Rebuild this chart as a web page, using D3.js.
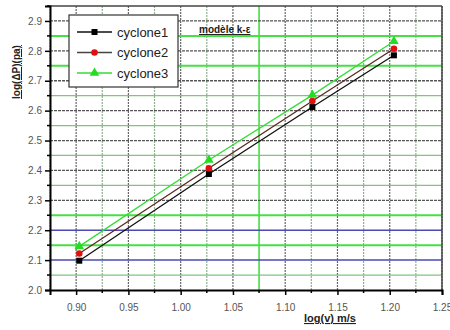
<!DOCTYPE html>
<html>
<head>
<meta charset="utf-8">
<script src="https://cdn.jsdelivr.net/npm/d3@7"></script>
<style>
  body { margin: 0; background: #fff; }
  svg { display: block; }
</style>
</head>
<body>
<div id="chart"></div>
<script>
// data
var logV = [0.903, 1.027, 1.126, 1.204];
var cyclone1 = [2.098, 2.388, 2.612, 2.785];
var cyclone2 = [2.122, 2.407, 2.632, 2.807];
var cyclone3 = [2.146, 2.435, 2.652, 2.832];
var seriesNames = ["cyclone1", "cyclone2", "cyclone3"];
var xTicks = [0.90, 0.95, 1.00, 1.05, 1.10, 1.15, 1.20, 1.25];
var yTicks = [2.0, 2.1, 2.2, 2.3, 2.4, 2.5, 2.6, 2.7, 2.8, 2.9];

var svgWidth = 450;
var svgHeight = 330;
var margin = { top: 6, right: 8, bottom: 40, left: 50 };
var chartWidth = svgWidth - margin.left - margin.right;
var chartHeight = svgHeight - margin.top - margin.bottom;

var svg = d3.select("#chart")
  .append("svg")
  .attr("width", svgWidth)
  .attr("height", svgHeight);

var chartGroup = svg.append("g")
  .attr("transform", `translate(${margin.left}, ${margin.top})`);

var xScale = d3.scaleLinear().domain([0.875, 1.25]).range([0, chartWidth]);
var yScale = d3.scaleLinear().domain([2.0, 2.95]).range([chartHeight, 0]);

// vertical grid every 0.025
var xGrid = d3.range(0, 16).map(i => 0.875 + i * 0.025);
xGrid.forEach(function(v) {
  var k = Math.round(v * 1000);
  var col = "#666", dash = "2,1", w = 1.2;
  if (k % 50 !== 0) { col = "#8fb08f"; }
  if (k === 1075) { col = "#33dd33"; dash = null; w = 1.5; }
  chartGroup.append("line")
    .attr("x1", xScale(v)).attr("x2", xScale(v))
    .attr("y1", 0).attr("y2", chartHeight)
    .attr("stroke", col).attr("stroke-width", w)
    .attr("stroke-dasharray", dash);
});

// horizontal grid every 0.05
var yGrid = d3.range(1, 19).map(i => 2.0 + i * 0.05);
var brightGreen = [2.15, 2.25, 2.75, 2.85];
var blue = [2.1, 2.2];
var lightGreen = [2.05, 2.35, 2.45, 2.55, 2.65];
yGrid.forEach(function(v) {
  var r = Math.round(v * 100) / 100;
  var col = "#555", dash = "3,1", w = 1.3;
  if (brightGreen.includes(r)) { col = "#44e044"; dash = null; w = 2; }
  else if (blue.includes(r)) { col = "#4a4ab0"; dash = null; w = 1.5; }
  else if (lightGreen.includes(r)) { col = "#7fc47f"; dash = null; w = 1.2; }
  chartGroup.append("line")
    .attr("x1", 0).attr("x2", chartWidth)
    .attr("y1", yScale(v)).attr("y2", yScale(v))
    .attr("stroke", col).attr("stroke-width", w)
    .attr("stroke-dasharray", dash);
});

// frame top/right
chartGroup.append("line")
  .attr("x1", 0).attr("x2", chartWidth).attr("y1", 0).attr("y2", 0)
  .attr("stroke", "#444").attr("stroke-width", 1.5);
chartGroup.append("line")
  .attr("x1", chartWidth).attr("x2", chartWidth).attr("y1", 0).attr("y2", chartHeight)
  .attr("stroke", "#444").attr("stroke-width", 1.5);

// axes
var xAxis = d3.axisBottom(xScale).tickValues(xTicks).tickFormat(d3.format(".2f")).tickSize(5);
var yAxis = d3.axisLeft(yScale).tickValues(yTicks).tickFormat(d3.format(".1f")).tickSize(5);

var gx = chartGroup.append("g")
  .attr("transform", `translate(0, ${chartHeight})`)
  .call(xAxis);
var gy = chartGroup.append("g").call(yAxis);

// minor ticks
var xMinor = d3.range(0, 8).map(i => 0.925 + i * 0.05);
gx.selectAll(".minor").data(xMinor).enter().append("line")
  .attr("x1", d => xScale(d)).attr("x2", d => xScale(d))
  .attr("y1", 0).attr("y2", 3).attr("stroke", "#000").attr("stroke-width", 1.5);
var yMinor = d3.range(0, 10).map(i => 2.05 + i * 0.1);
gy.selectAll(".minor").data(yMinor).enter().append("line")
  .attr("x1", 0).attr("x2", -3)
  .attr("y1", d => yScale(d)).attr("y2", d => yScale(d))
  .attr("stroke", "#000").attr("stroke-width", 1.5);

[gx, gy].forEach(function(g) {
  g.select(".domain").attr("stroke", "#000").attr("stroke-width", 2);
  g.selectAll(".tick line").attr("stroke", "#000").attr("stroke-width", 1.5);
  g.selectAll(".tick text")
    .attr("fill", "#555")
    .attr("font-family", "Liberation Sans Narrow, Arial, sans-serif")
    .attr("font-size", "10px");
});
gx.selectAll(".tick text").attr("dy", "1.3em");

// series
var series = [
  { name: seriesNames[0], values: cyclone1, line: "#111", marker: "#000", shape: d3.symbolSquare, size: 36 },
  { name: seriesNames[1], values: cyclone2, line: "#5a2a20", marker: "#e01010", shape: d3.symbolCircle, size: 34 },
  { name: seriesNames[2], values: cyclone3, line: "#33dd33", marker: "#22dd22", shape: d3.symbolTriangle, size: 40 }
];

var lineGen = d3.line()
  .x((d, i) => xScale(logV[i]))
  .y(d => yScale(d));

series.forEach(function(s) {
  chartGroup.append("path")
    .datum(s.values)
    .attr("d", lineGen)
    .attr("fill", "none")
    .attr("stroke", s.line)
    .attr("stroke-width", 1.3);
});
series.forEach(function(s) {
  chartGroup.selectAll(null)
    .data(s.values)
    .enter()
    .append("path")
    .attr("d", d3.symbol().type(s.shape).size(s.size))
    .attr("transform", (d, i) => `translate(${xScale(logV[i])}, ${yScale(d)})`)
    .attr("fill", s.marker);
});

// legend
var legend = svg.append("g").attr("transform", "translate(69, 15)");
legend.append("rect")
  .attr("width", 109).attr("height", 72)
  .attr("fill", "#fff").attr("stroke", "#333").attr("stroke-width", 1.2);
series.forEach(function(s, i) {
  var y = 17 + i * 20.5;
  legend.append("line")
    .attr("x1", 8).attr("x2", 43).attr("y1", y).attr("y2", y)
    .attr("stroke", s.line === "#5a2a20" ? "#444" : s.line).attr("stroke-width", 1.5);
  legend.append("path")
    .attr("d", d3.symbol().type(s.shape).size(s.size))
    .attr("transform", `translate(25.5, ${y})`)
    .attr("fill", s.marker);
  legend.append("text")
    .attr("x", 48).attr("y", y + 4.5)
    .attr("font-family", "Arial, Liberation Sans, sans-serif")
    .attr("font-size", "13px")
    .attr("fill", "#222")
    .text(s.name);
});

// annotation
svg.append("text")
  .attr("x", 199).attr("y", 33)
  .attr("font-family", "Arial, Liberation Sans, sans-serif")
  .attr("font-size", "10px")
  .attr("font-weight", "bold")
  .attr("fill", "#222")
  .attr("text-decoration", "underline")
  .text("modèle k-ε");

// axis titles
svg.append("text")
  .attr("transform", "translate(20, 72) rotate(-90)")
  .attr("text-anchor", "middle")
  .attr("font-family", "Arial, Liberation Sans, sans-serif")
  .attr("font-size", "10px")
  .attr("font-weight", "bold")
  .attr("fill", "#222")
  .attr("text-decoration", "underline")
  .text("log(ΔP)(pa)");

svg.append("text")
  .attr("x", 330).attr("y", 322)
  .attr("text-anchor", "middle")
  .attr("font-family", "Arial, Liberation Sans, sans-serif")
  .attr("font-size", "11px")
  .attr("font-weight", "bold")
  .attr("fill", "#222")
  .attr("text-decoration", "underline")
  .text("log(v) m/s");
</script>
</body>
</html>
